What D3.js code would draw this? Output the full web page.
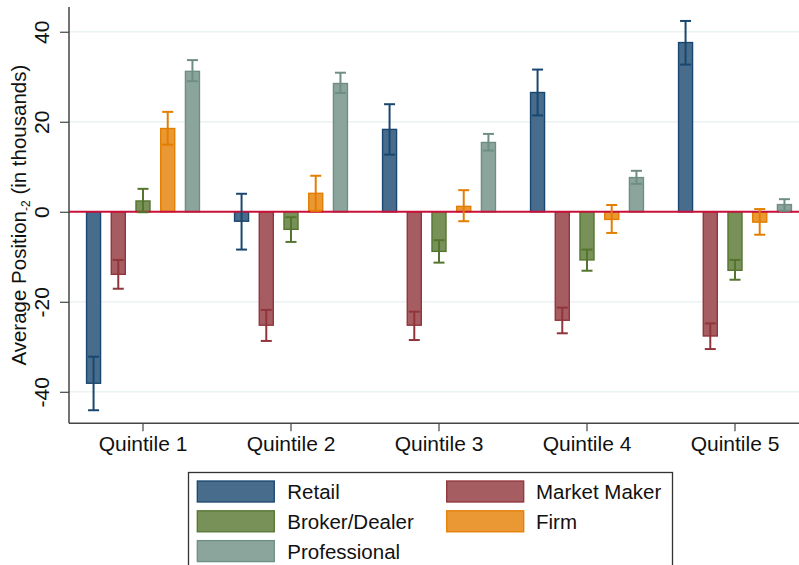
<!DOCTYPE html>
<html>
<head>
<meta charset="utf-8">
<script src="https://cdn.jsdelivr.net/npm/d3@7"></script>
<style>
  html, body { margin: 0; padding: 0; background: #fff; }
  svg { display: block; font-family: "Liberation Sans", Arial, Helvetica, sans-serif; }
</style>
</head>
<body>
<svg id="chart" width="799" height="565"></svg>
<script>
const quintiles = ["Quintile 1", "Quintile 2", "Quintile 3", "Quintile 4", "Quintile 5"];
const seriesNames = ["Retail", "Market Maker", "Broker/Dealer", "Firm", "Professional"];
const yTicks = [-40, -20, 0, 20, 40];

const retail       = [-38.1, -2.1, 18.3, 26.5, 37.6];
const marketMaker  = [-13.9, -25.2, -25.2, -24.1, -27.6];
const brokerDealer = [2.4, -3.9, -8.8, -10.7, -13.0];
const firm         = [18.5, 4.1, 1.2, -1.7, -2.3];
const professional = [31.2, 28.5, 15.4, 7.6, 1.6];

const retailLo       = [-44.1, -8.4, 12.7, 21.4, 32.7];
const retailHi       = [-32.2, 4.0, 23.9, 31.6, 42.4];
const marketMakerLo  = [-17.1, -28.7, -28.5, -27.0, -30.5];
const marketMakerHi  = [-10.7, -21.8, -22.2, -21.3, -24.8];
const brokerDealerLo = [-0.1, -6.7, -11.3, -13.1, -15.1];
const brokerDealerHi = [5.1, -1.2, -6.3, -8.4, -10.7];
const firmLo         = [14.9, 0.2, -2.1, -4.7, -5.1];
const firmHi         = [22.2, 8.0, 4.8, 1.5, 0.6];
const professionalLo = [29.0, 26.4, 13.6, 6.2, 0.2];
const professionalHi = [33.7, 30.9, 17.3, 9.1, 2.8];

const lineColors = ["#1A476F", "#90353B", "#55752F", "#E37E00", "#6E8E84"];
const fillColors = ["#486C8C", "#A65D62", "#779159", "#E99833", "#8BA59D"];

(function () {
const means = [retail, marketMaker, brokerDealer, firm, professional];
const los = [retailLo, marketMakerLo, brokerDealerLo, firmLo, professionalLo];
const his = [retailHi, marketMakerHi, brokerDealerHi, firmHi, professionalHi];

const rows = [];
quintiles.forEach((q, qi) => {
  seriesNames.forEach((s, si) => {
    rows.push({ q, s, si, v: means[si][qi], lo: los[si][qi], hi: his[si][qi] });
  });
});

const svg = d3.select("#chart");
const pLeft = 69, pBottom = 423.3, pTop = 7, pRight = 809;

const y = d3.scaleLinear().domain([-47, 45.5]).range([pBottom, pTop]);
const x0 = d3.scaleBand().domain(quintiles).range([pLeft, pRight]).padding(0);
const x1 = d3.scaleBand().domain(seriesNames).range([0, x0.bandwidth()])
  .paddingInner(0.433).paddingOuter(0.71);

// gridlines
svg.append("g").selectAll("line").data(yTicks.filter(d => d !== 0)).join("line")
  .attr("x1", pLeft).attr("x2", pRight)
  .attr("y1", d => y(d)).attr("y2", d => y(d))
  .attr("stroke", "#EAF2F3").attr("stroke-width", 1.5);

// bars
svg.append("g").selectAll("rect").data(rows).join("rect")
  .attr("x", d => x0(d.q) + x1(d.s))
  .attr("width", x1.bandwidth())
  .attr("y", d => y(Math.max(0, d.v)))
  .attr("height", d => Math.abs(y(d.v) - y(0)))
  .attr("fill", d => fillColors[d.si])
  .attr("stroke", d => lineColors[d.si])
  .attr("stroke-width", 1.4);

// zero line
svg.append("line")
  .attr("x1", pLeft).attr("x2", pRight)
  .attr("y1", y(0)).attr("y2", y(0))
  .attr("stroke", "#C8103A").attr("stroke-width", 2);

// error bars
const capW = 11;
const eb = svg.append("g");
rows.forEach(d => {
  const cx = x0(d.q) + x1(d.s) + x1.bandwidth() / 2;
  const c = lineColors[d.si];
  eb.append("line").attr("x1", cx).attr("x2", cx).attr("y1", y(d.lo)).attr("y2", y(d.hi))
    .attr("stroke", c).attr("stroke-width", 2);
  [d.lo, d.hi].forEach(v => {
    eb.append("line").attr("x1", cx - capW / 2).attr("x2", cx + capW / 2)
      .attr("y1", y(v)).attr("y2", y(v)).attr("stroke", c).attr("stroke-width", 2);
  });
});

// y axis
const yAxis = svg.append("g").attr("transform", `translate(${pLeft},0)`)
  .call(d3.axisLeft(y).tickValues(yTicks).tickSize(9).tickFormat(d => String(d)));
yAxis.select(".domain").attr("d", `M0,${pTop}V${pBottom}`).attr("stroke", "#444").attr("stroke-width", 1.5);
yAxis.selectAll(".tick line").attr("stroke", "#444").attr("stroke-width", 1.2);
yAxis.selectAll(".tick text")
  .attr("font-size", 21).attr("fill", "#111")
  .attr("x", null).attr("y", null).attr("dy", "0.35em")
  .attr("text-anchor", "middle")
  .attr("transform", "translate(-27,0) rotate(-90)");

// x axis
const xAxis = svg.append("g").attr("transform", `translate(0,${pBottom})`)
  .call(d3.axisBottom(x0).tickSize(8).tickSizeOuter(0));
xAxis.select(".domain").attr("d", `M${pLeft},0H${pRight}`).attr("stroke", "#444").attr("stroke-width", 1.5);
xAxis.selectAll(".tick line").attr("stroke", "#444").attr("stroke-width", 1.2);
xAxis.selectAll(".tick text").attr("font-size", 21).attr("fill", "#111").attr("y", 13).attr("dy", "0.71em");

// y title
const yt = svg.append("text")
  .attr("transform", `translate(26,${(pTop + pBottom) / 2}) rotate(-90)`)
  .attr("text-anchor", "middle").attr("font-size", 20.5).attr("fill", "#111");
yt.append("tspan").text("Average Position");
yt.append("tspan").attr("font-size", 12).attr("dy", 4).text("-2");
yt.append("tspan").attr("dy", -4).text(" (in thousands)");

// legend
const leg = svg.append("g");
leg.append("rect").attr("x", 188.5).attr("y", 472.5).attr("width", 484).attr("height", 110)
  .attr("fill", "#fff").attr("stroke", "#333").attr("stroke-width", 1.3);
const keyX = [197.3, 446.7], labelX = [287.3, 536], rowTop = 481, rowStep = 29.8;
seriesNames.forEach((s, i) => {
  const col = i % 2, row = Math.floor(i / 2);
  const ky = rowTop + row * rowStep;
  leg.append("rect").attr("x", keyX[col]).attr("y", ky).attr("width", 77).attr("height", 21)
    .attr("fill", fillColors[i]).attr("stroke", lineColors[i]).attr("stroke-width", 1.3);
  leg.append("text").attr("x", labelX[col]).attr("y", ky + 18)
    .attr("font-size", 20.5).attr("fill", "#111").text(s);
});
})();
</script>
</body>
</html>
